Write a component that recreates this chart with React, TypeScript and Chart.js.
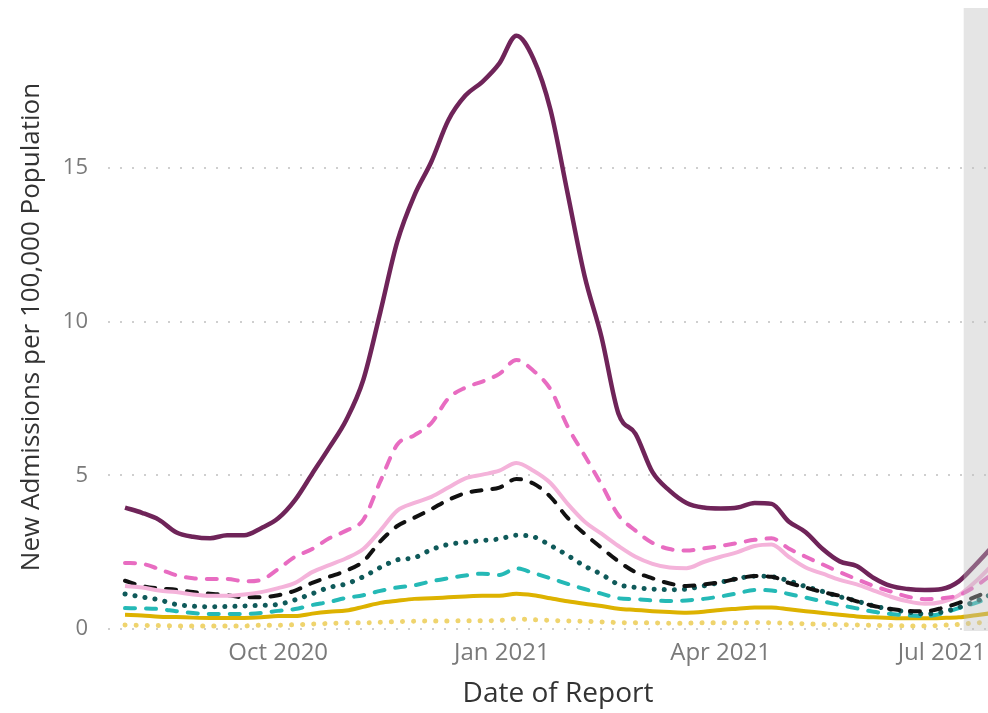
import React, { useEffect, useRef } from "react";
import { Chart, registerables } from "chart.js";

Chart.register(...registerables);

// ---------- DATA ----------
const dates = [
  "2020-07-30", "2020-08-06", "2020-08-13", "2020-08-20", "2020-08-27",
  "2020-09-03", "2020-09-10", "2020-09-17", "2020-09-24",
  "2020-10-01", "2020-10-08", "2020-10-15", "2020-10-22", "2020-10-29",
  "2020-11-05", "2020-11-12", "2020-11-19", "2020-11-26",
  "2020-12-03", "2020-12-10", "2020-12-17", "2020-12-24", "2020-12-31",
  "2021-01-07", "2021-01-14", "2021-01-21", "2021-01-28",
  "2021-02-04", "2021-02-11", "2021-02-18", "2021-02-25",
  "2021-03-04", "2021-03-11", "2021-03-18", "2021-03-25",
  "2021-04-01", "2021-04-08", "2021-04-15", "2021-04-22", "2021-04-29",
  "2021-05-06", "2021-05-13", "2021-05-20", "2021-05-27",
  "2021-06-03", "2021-06-10", "2021-06-17", "2021-06-24",
  "2021-07-01", "2021-07-08", "2021-07-15", "2021-07-22",
];

const age70plus = [
  3.95, 3.78, 3.55, 3.15, 3.0, 2.95, 3.05, 3.05, 3.28, 3.6,
  4.2, 5.05, 5.9, 6.8, 8.1, 10.3, 12.6, 14.1, 15.2, 16.55,
  17.35, 17.8, 18.4, 19.3, 18.55, 16.9, 14.2, 11.5, 9.5, 7.0,
  6.35, 5.1, 4.5, 4.1, 3.95, 3.92, 3.95, 4.1, 4.07, 3.5,
  3.15, 2.6, 2.2, 2.05, 1.66, 1.4, 1.3, 1.27, 1.3, 1.55,
  2.1, 2.7,
];
const age60to69 = [
  2.15, 2.12, 1.95, 1.75, 1.65, 1.63, 1.63, 1.55, 1.6, 1.95,
  2.35, 2.6, 2.95, 3.2, 3.55, 4.8, 6.0, 6.3, 6.7, 7.5,
  7.85, 8.05, 8.3, 8.75, 8.4, 7.8, 6.6, 5.65, 4.7, 3.7,
  3.2, 2.8, 2.6, 2.55, 2.62, 2.7, 2.8, 2.9, 2.95, 2.62,
  2.35, 2.1, 1.85, 1.62, 1.4, 1.22, 1.05, 0.97, 1.0, 1.1,
  1.4, 1.8,
];
const age50to59 = [
  1.4, 1.35, 1.25, 1.2, 1.12, 1.08, 1.08, 1.12, 1.2, 1.33,
  1.5, 1.85, 2.08, 2.3, 2.6, 3.2, 3.85, 4.1, 4.3, 4.6,
  4.9, 5.02, 5.15, 5.4, 5.15, 4.75, 4.08, 3.5, 3.1, 2.7,
  2.35, 2.12, 2.0, 1.98, 2.18, 2.35, 2.5, 2.7, 2.75, 2.35,
  2.0, 1.8, 1.6, 1.45, 1.25, 1.05, 0.9, 0.82, 0.88, 1.1,
  1.55, 2.1,
];
const allAges = [
  1.57, 1.4, 1.32, 1.28, 1.2, 1.15, 1.1, 1.03, 1.03, 1.1,
  1.25, 1.5, 1.7, 1.9, 2.2, 2.85, 3.35, 3.62, 3.9, 4.2,
  4.42, 4.52, 4.6, 4.88, 4.73, 4.3, 3.62, 3.1, 2.64, 2.2,
  1.85, 1.65, 1.48, 1.4, 1.45, 1.52, 1.64, 1.72, 1.7, 1.5,
  1.35, 1.2, 1.08, 0.9, 0.75, 0.65, 0.59, 0.58, 0.68, 0.85,
  1.05, 1.3,
];
const age40to49 = [
  1.14, 1.04, 0.95, 0.8, 0.74, 0.72, 0.73, 0.75, 0.77, 0.8,
  0.95, 1.15, 1.35, 1.47, 1.7, 2.0, 2.25, 2.32, 2.58, 2.75,
  2.82, 2.88, 2.93, 3.05, 3.0, 2.72, 2.4, 2.05, 1.78, 1.45,
  1.35, 1.3, 1.28, 1.3, 1.4, 1.52, 1.64, 1.72, 1.7, 1.57,
  1.38, 1.22, 1.05, 0.91, 0.75, 0.64, 0.55, 0.49, 0.55, 0.7,
  0.9, 1.15,
];
const age30to39 = [
  0.68, 0.67, 0.65, 0.58, 0.52, 0.49, 0.49, 0.49, 0.52, 0.59,
  0.65, 0.78, 0.88, 1.01, 1.1, 1.24, 1.35, 1.42, 1.55, 1.65,
  1.74, 1.8, 1.76, 1.97, 1.82, 1.65, 1.47, 1.3, 1.15, 1.0,
  0.97, 0.93, 0.91, 0.93, 0.98, 1.06, 1.16, 1.27, 1.25, 1.14,
  1.02, 0.9, 0.78, 0.67, 0.56, 0.49, 0.44, 0.42, 0.5, 0.68,
  0.85, 1.05,
];
const age18to29 = [
  0.46, 0.44, 0.4, 0.39, 0.37, 0.36, 0.36, 0.36, 0.38, 0.42,
  0.42, 0.5, 0.56, 0.6, 0.72, 0.85, 0.92, 0.98, 1.0, 1.03,
  1.06, 1.08, 1.08, 1.15, 1.1, 1.0, 0.9, 0.82, 0.75, 0.66,
  0.62, 0.58, 0.55, 0.53, 0.56, 0.62, 0.66, 0.7, 0.7, 0.64,
  0.58, 0.52, 0.46, 0.41, 0.38, 0.36, 0.35, 0.35, 0.36, 0.38,
  0.45, 0.52,
];
const age0to17 = [
  0.13, 0.12, 0.11, 0.1, 0.1, 0.1, 0.1, 0.1, 0.12, 0.12,
  0.14, 0.16, 0.18, 0.2, 0.2, 0.22, 0.24, 0.25, 0.26, 0.26,
  0.27, 0.27, 0.28, 0.33, 0.3, 0.28, 0.26, 0.25, 0.23, 0.21,
  0.2, 0.2, 0.19, 0.19, 0.2, 0.2, 0.2, 0.21, 0.2, 0.19,
  0.17, 0.15, 0.14, 0.13, 0.12, 0.11, 0.1, 0.1, 0.12, 0.15,
  0.2, 0.22,
];

const xTickDates = ["2020-10-01", "2021-01-01", "2021-04-01", "2021-07-01"];
const xTickLabels = ["Oct 2020", "Jan 2021", "Apr 2021", "Jul 2021"];
const yTickValues = [0, 5, 10, 15];
const axisStartDate = "2020-07-23";
const axisEndDate = "2021-07-20";
const shadeStartDate = "2021-07-10";
const xTitle = "Date of Report";
const yTitle = "New Admissions per 100,000 Population";

// ---------- HELPERS ----------
const ORIGIN = Date.UTC(2020, 7, 1);
const dayOf = (s: string) => {
  const [y, m, d] = s.split("-").map(Number);
  return (Date.UTC(y, m - 1, d) - ORIGIN) / 86400000;
};

const FONT = "'Open Sans', 'Noto Sans', sans-serif";

const seriesList = [
  { label: "70+ Years", values: age70plus, color: "#6F2459", width: 4.5, dash: [] as number[] },
  { label: "60-69 Years", values: age60to69, color: "#E86CC1", width: 4, dash: [10, 11] },
  { label: "50-59 Years", values: age50to59, color: "#F4B3DA", width: 4, dash: [] as number[] },
  { label: "All Ages", values: allAges, color: "#111111", width: 4, dash: [10, 11] },
  { label: "40-49 Years", values: age40to49, color: "#0F5A5A", width: 5, dash: [0.1, 10] },
  { label: "30-39 Years", values: age30to39, color: "#25B9B6", width: 4, dash: [10, 11] },
  { label: "18-29 Years", values: age18to29, color: "#DDB200", width: 4, dash: [] as number[] },
  { label: "0-17 Years", values: age0to17, color: "#EFD46E", width: 5, dash: [0.1, 11] },
];

const shadePlugin = {
  id: "shadeBand",
  afterDatasetsDraw(chart: any) {
    const { ctx, chartArea, scales } = chart;
    const x0 = scales.x.getPixelForValue(dayOf(shadeStartDate));
    ctx.save();
    ctx.fillStyle = "rgba(190,190,190,0.4)";
    ctx.fillRect(x0, chartArea.top, chartArea.right - x0 + 2, chartArea.bottom - chartArea.top + 2);
    ctx.restore();
  },
};

const titlePlugin = {
  id: "axisTitles",
  afterDraw(chart: any) {
    const { ctx } = chart;
    ctx.save();
    ctx.fillStyle = "#333333";
    ctx.textAlign = "center";
    ctx.textBaseline = "middle";
    ctx.font = `28px ${FONT}`;
    ctx.fillText(xTitle, 558, 694);
    ctx.translate(32, 327);
    ctx.rotate(-Math.PI / 2);
    ctx.font = `26px ${FONT}`;
    ctx.fillText(yTitle, 0, 0);
    ctx.restore();
  },
};

export default function App() {
  const ref = useRef<HTMLCanvasElement | null>(null);

  useEffect(() => {
    if (!ref.current) return;
    const chart = new Chart(ref.current, {
      type: "line",
      data: {
        datasets: seriesList.map((s) => ({
          label: s.label,
          data: s.values.map((v, i) => ({ x: dayOf(dates[i]), y: v })),
          borderColor: s.color,
          backgroundColor: s.color,
          borderWidth: s.width,
          borderDash: s.dash,
          borderCapStyle: s.dash.length ? "round" : "butt",
          borderJoinStyle: "round",
          pointRadius: 0,
          cubicInterpolationMode: "monotone",
          fill: false,
        })),
      },
      options: {
        animation: false,
        responsive: false,
        layout: { padding: { top: 8, left: 0, right: 0, bottom: 0 } },
        plugins: {
          legend: { display: false },
          tooltip: { enabled: false },
        },
        scales: {
          x: {
            type: "linear",
            min: dayOf(axisStartDate),
            max: dayOf(axisEndDate),
            grid: { display: false, drawTicks: false },
            border: { display: false },
            afterBuildTicks: (s: any) => {
              s.ticks = xTickDates.map((d) => ({ value: dayOf(d) }));
            },
            afterFit: (s: any) => {
              s.height = 84;
              s.paddingLeft = 0;
              s.paddingRight = 0;
            },
            ticks: {
              autoSkip: false,
              maxRotation: 0,
              padding: 10,
              color: "#7a7a7a",
              font: { family: FONT, size: 24 },
              callback: (v: any) => {
                const i = xTickDates.findIndex((d) => dayOf(d) === v);
                return i >= 0 ? xTickLabels[i] : "";
              },
            },
            title: { display: false },
          },
          y: {
            min: 0,
            max: 20.2,
            afterBuildTicks: (s: any) => {
              s.ticks = yTickValues.map((v) => ({ value: v }));
            },
            afterFit: (s: any) => {
              s.width = 108;
              s.paddingTop = 0;
              s.paddingBottom = 0;
            },
            grid: { color: "#cfcfcf", lineWidth: 2, drawTicks: false },
            border: { display: false, dash: [2, 10] },
            ticks: {
              padding: 20,
              color: "#7a7a7a",
              font: { family: FONT, size: 22 },
            },
            title: { display: false },
          },
        },
      },
      plugins: [shadePlugin, titlePlugin],
    } as any);
    return () => chart.destroy();
  }, []);

  return (
    <div
      style={{
        position: "absolute",
        left: 0,
        top: 0,
        width: 988,
        height: 713,
        overflow: "hidden",
        background: "#ffffff",
      }}
    >
      <canvas ref={ref} width={988} height={713} style={{ display: "block" }} />
    </div>
  );
}
